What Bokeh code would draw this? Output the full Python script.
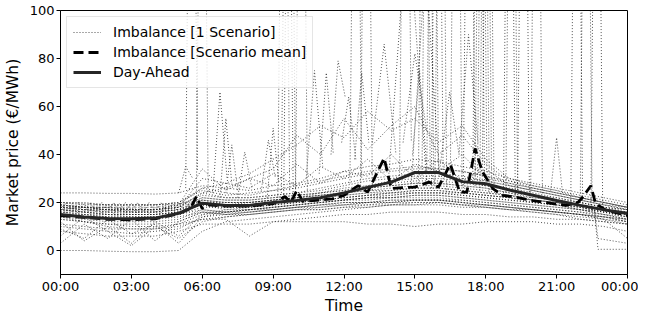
from bokeh.plotting import figure
from bokeh.models import FixedTicker, Range1d, Legend, LegendItem
from bokeh.embed import file_html
from bokeh.resources import INLINE

# ---------------- data ----------------
HOURS = list(range(25))
TICK_HOURS = [0, 3, 6, 9, 12, 15, 18, 21, 24]
TICK_LABELS = ["00:00", "03:00", "06:00", "09:00", "12:00", "15:00", "18:00", "21:00", "00:00"]
Y_TICKS = [0, 20, 40, 60, 80, 100]

DAY_AHEAD = [15, 14, 13.3, 13.2, 13.5, 15.5, 19.7, 18.8, 18.8, 20, 20.8, 22, 24, 26.3,
             28.5, 32.5, 32.5, 28.7, 27.8, 25.2, 23, 20.8, 18.8, 17, 15.4]

MEAN_T = [0, 1, 2, 3, 4, 5, 5.5, 5.75, 6.0, 6.25, 7, 8, 9, 9.5, 9.75, 10, 10.25, 11, 11.5, 12,
          12.6, 13, 13.7, 14, 14.5, 15, 15.6, 16, 16.5, 16.9, 17.2, 17.55, 17.85, 18.3, 18.7,
          19.3, 20, 20.7, 21.4, 21.9, 22.1, 22.45, 22.65, 23.1, 24]
MEAN_V = [14.5, 13.8, 13, 12.8, 13.2, 15.3, 17.5, 22.5, 17.5, 19, 18.5, 18.5, 19.5, 22.5, 20,
          25, 20.5, 21, 21.5, 23, 27, 24.3, 38.5, 25.8, 26.2, 26.4, 28.5, 26.4, 36, 24.3, 24.3,
          42.5, 33, 25.8, 23, 22.2, 20.8, 19.7, 18.8, 20, 22.2, 27, 19.5, 16.7, 14.6]

# hourly scenario profiles (00:00 ... 24:00)
S01 = [24, 24, 23.8, 23.8, 23.5, 24, 27, 26, 25, 27, 28, 30, 33, 35, 36, 38, 37, 35, 33, 30, 28, 26, 24, 22, 20]
S02 = [0, 0, -0.3, -0.5, -0.5, 0, 8, 12, 13, 14, 15, 16, 17, 18, 19, 19, 20, 19, 18, 17, 16, 15, 13, 12, 11]
S03 = [20, 19.5, 19, 19, 19, 19.5, 21, 20, 20, 21, 22, 23, 24, 26, 27, 28, 28, 27, 26, 24, 22, 21, 20, 18, 17]
S04 = [18, 17, 16, 16, 16, 17, 20, 19, 19, 20, 21, 22, 23, 24, 25, 26, 26, 25, 24, 23, 21, 20, 19, 17, 16]
S05 = [16, 15, 14, 14, 14, 15, 18, 18, 18, 19, 20, 21, 22, 23, 23, 24, 24, 23, 22, 21, 20, 19, 18, 16, 15]
S06 = [12, 4, 10, 3, 12, 6, 15, 16, 17, 18, 19, 20, 21, 21, 22, 22, 22, 21, 20, 19, 18, 17, 16, 14, 12]
S07 = [3, 11, 5, 13, 4, 12, 16, 15, 16, 17, 18, 19, 20, 20, 21, 21, 21, 20, 19, 18, 17, 16, 15, 13, 11]
S08 = [10, 9, 8, 7, 8, 9, 14, 15, 16, 17, 18, 19, 19, 20, 20, 21, 21, 20, 19, 18, 17, 16, 15, 14, 13]
S09 = [14, 13, 12, 12, 12, 13, 17, 16, 16, 17, 18, 18, 19, 19, 20, 20, 20, 19, 19, 18, 17, 16, 15, 14, 13]
S10 = [19, 18, 17, 17, 17, 18, 24, 22, 22, 23, 24, 25, 27, 29, 30, 31, 31, 30, 29, 27, 25, 23, 21, 19, 18]
S11 = [17, 16, 15, 15, 15, 16, 19, 17, 17, 18, 19, 20, 21, 22, 22, 23, 23, 22, 21, 20, 19, 18, 17, 15, 14]
S12 = [13, 12, 11, 10, 10, 11, 13, 13, 6, 12, 13, 14, 15, 15, 16, 16, 16, 15, 15, 14, 14, 13, 13, 12, 11]
S13 = [8, 7, 6, 6, 6, 8, 11, 11, 11, 12, 12, 12, 12, 11, 11, 10, 11, 11, 12, 12, 12, 11, 11, 10, 8]
S14 = [15, 14, 14, 13, 13, 14, 16, 16, 17, 18, 19, 20, 21, 22, 23, 24, 24, 24, 23, 22, 20, 19, 17, 16, 14]
S15 = [17, 16, 15, 15, 15, 16, 19, 18, 18, 19, 20, 21, 22, 23, 24, 24, 24, 23, 22, 21, 20, 19, 18, 16, 15]
S16 = [6, 14, 8, 2, 10, 5, 12, 14, 15, 16, 17, 18, 19, 20, 20, 21, 21, 20, 19, 18, 17, 16, 15, 14, 12]
S17 = [20, 20, 19, 19, 19, 20, 26, 24, 23, 25, 26, 28, 30, 32, 33, 34, 34, 33, 31, 29, 27, 25, 23, 21, 19]
S18 = [18, 17, 17, 16, 16, 17, 22, 21, 21, 22, 23, 24, 25, 27, 28, 29, 29, 28, 27, 25, 23, 22, 20, 18, 17]
S19 = [16, 15, 15, 14, 14, 15, 20, 20, 20, 21, 22, 23, 24, 25, 26, 27, 27, 26, 25, 23, 22, 21, 19, 17, 16]
S20 = [14, 12, 10, 9, 9, 11, 15, 17, 18, 19, 20, 21, 22, 23, 24, 25, 25, 24, 23, 22, 21, 20, 18, 16, 14]
S21 = [19, 18, 18, 18, 18, 19, 23, 22, 22, 23, 24, 26, 28, 30, 31, 32, 32, 31, 29, 27, 25, 23, 21, 19, 17]
S22 = [17, 17, 16, 16, 16, 17, 21, 20, 20, 21, 22, 23, 24, 25, 25, 26, 26, 25, 24, 23, 21, 20, 19, 17, 15]
S23 = [9, 5, 13, 7, 11, 3, 14, 16, 17, 18, 19, 20, 21, 22, 22, 23, 23, 22, 21, 20, 19, 18, 17, 15, 13]
S24 = [15, 15, 14, 14, 14, 15, 17, 16, 17, 17, 18, 19, 20, 20, 21, 21, 21, 21, 20, 19, 18, 17, 16, 15, 13]
S25 = [20, 19, 19, 19, 19, 20, 25, 23, 24, 25, 27, 29, 31, 33, 34, 35, 34, 33, 31, 28, 26, 24, 22, 20, 18]
S26 = [11, 10, 9, 9, 9, 10, 13, 14, 15, 16, 17, 17, 18, 18, 19, 19, 19, 18, 18, 17, 16, 15, 14, 13, 12]
S27 = [18, 18, 17, 17, 17, 18, 22, 21, 21, 22, 23, 24, 26, 27, 29, 30, 30, 29, 27, 26, 24, 22, 20, 18, 16]
S28 = [16, 16, 15, 15, 15, 16, 21, 19, 19, 20, 21, 22, 23, 24, 24, 25, 25, 24, 23, 22, 21, 20, 19, 17, 15]
S29 = [13, 12, 11, 11, 11, 12, 16, 15, 15, 16, 17, 17, 18, 19, 19, 20, 20, 19, 18, 17, 17, 16, 15, 13, 5]
S30 = [17, 16, 16, 15, 15, 16, 20, 19, 20, 21, 22, 24, 25, 26, 27, 28, 28, 27, 26, 24, 23, 21, 19, 17, 16]
S31 = [18, 17, 17, 16, 16, 18, 30, 28, 26, 32, 27, 35, 30, 38, 29, 36, 33, 40, 30, 28, 26, 24, 22, 20, 18]
S32 = [19, 18, 18, 17, 17, 19, 34, 25, 30, 27, 36, 28, 33, 31, 40, 30, 38, 29, 34, 27, 25, 23, 21, 19, 17]
S33 = [19, 18, 18, 17, 17, 19, 26, 28, 32, 38, 44, 52, 47, 58, 50, 55, 45, 52, 38, 30, 27, 25, 22, 20, 18]
S34 = [18, 18, 17, 17, 17, 18, 24, 26, 30, 34, 48, 40, 55, 42, 52, 60, 40, 48, 36, 29, 26, 24, 22, 20, 18]

SCENARIOS = [S01, S02, S03, S04, S05, S06, S07, S08, S09, S10, S11, S12, S13, S14, S15, S16, S17,
             S18, S19, S20, S21, S22, S23, S24, S25, S26, S27, S28, S29, S30, S31, S32, S33, S34]

# quarter-hourly night oscillations
NIGHT_T = [0, 0.25, 0.5, 0.75, 1, 1.25, 1.5, 1.75, 2, 2.25, 2.5, 2.75, 3, 3.25, 3.5, 3.75,
           4, 4.25, 4.5, 4.75, 5, 5.25, 5.5]
NIGHT_A = [16, 20, 16, 20, 16, 20, 16, 20, 16, 20, 16, 20, 16, 20, 16, 20, 16, 20, 16, 20, 16, 20, 18]
NIGHT_B = [19.5, 16.5, 19.5, 16.5, 19.5, 16.5, 19.5, 16.5, 19.5, 16.5, 19.5, 16.5, 19.5, 16.5,
           19.5, 16.5, 19.5, 16.5, 19.5, 16.5, 19.5, 17, 20]
NIGHT_C = [18, 15.5, 18, 15.5, 18, 15.5, 18, 15.5, 18, 15.5, 18, 15.5, 18, 15.5, 18, 15.5,
           18, 15.5, 18, 15.5, 18, 16, 19]

# late-evening drops
LATE_T = [21, 22, 22.6, 22.75, 24]
LATE_A = [20, 18, 17, 0.5, 0.5]
LATE_B = [19, 17, 16.5, 5, 3]

# price spikes: centre time, left base, peak, right base, half width (h)
SPIKE_T = [5.3, 5.55, 6.0, 9.45, 9.6, 9.7, 10.2, 12.5, 12.95, 14.6, 14.7, 15.4, 15.45, 15.55,
           15.75, 15.95, 16.1, 16.75, 17.3, 17.7, 17.8, 17.9, 18.0, 18.1, 19.0, 19.1, 19.6, 20.15,
           21.85, 22.25, 22.7,
           6.75, 7.0, 7.25, 7.8, 8.8, 9.0, 10.75, 11.25, 11.75, 12.2, 12.75, 13.7, 15.0, 15.2,
           16.47, 17.27, 21.0]
SPIKE_L = [24, 26, 20, 22, 24, 21, 23, 28, 27, 30, 32, 28, 28, 30, 27, 26, 28, 30, 26, 29, 27,
           28, 25, 27, 24, 23, 24, 22, 21, 20, 19,
           24, 22, 24, 22, 25, 22, 30, 32, 40, 45, 38, 45, 45, 40, 35, 40, 25]
SPIKE_P = [35, 300, 300, 300, 300, 300, 300, 300, 300, 300, 140, 300, 120, 300, 300, 300, 300,
           300, 300, 300, 300, 300, 300, 300, 300, 300, 300, 300, 300, 300, 300,
           66, 55, 44, 41, 46, 51, 75, 74, 79, 64, 74, 86, 82, 75, 66, 90, 47]
SPIKE_R = [30, 33, 24, 25, 22, 26, 25, 30, 25, 45, 28, 32, 30, 27, 33, 29, 25, 27, 30, 26, 31,
           24, 27, 26, 23, 24, 22, 23, 20, 22, 18,
           30, 28, 25, 26, 30, 28, 35, 40, 64, 38, 45, 40, 50, 35, 40, 45, 24]
SPIKE_HW = [0.3, 0.25, 0.25, 0.25, 0.25, 0.25, 0.25, 0.25, 0.25, 0.25, 0.8, 0.25, 0.6, 0.25,
            0.25, 0.25, 0.25, 0.25, 0.25, 0.25, 0.25, 0.25, 0.25, 0.25, 0.25, 0.25, 0.25, 0.25,
            0.25, 0.25, 0.25,
            0.3, 0.25, 0.25, 0.3, 0.3, 0.25, 0.35, 0.3, 0.3, 0.3, 0.3, 0.5, 0.5, 0.3, 0.4, 0.4, 0.25]

# ---------------- build ----------------
FONT = "DejaVu Sans"
xs = [HOURS for _ in SCENARIOS] + [NIGHT_T, NIGHT_T, NIGHT_T, LATE_T, LATE_T]
ys = [s for s in SCENARIOS] + [NIGHT_A, NIGHT_B, NIGHT_C, LATE_A, LATE_B]
for t, l, pk, r, hw in zip(SPIKE_T, SPIKE_L, SPIKE_P, SPIKE_R, SPIKE_HW):
    xs.append([t - hw, t, t + hw])
    ys.append([l, pk, r])

p = figure(frame_width=567, frame_height=264, x_range=Range1d(0, 24), y_range=Range1d(-10, 100),
           output_backend="svg", toolbar_location=None,
           min_border_left=59, min_border_right=11, min_border_top=10, min_border_bottom=30)

r_sc = p.multi_line(xs, ys, line_color="#1a1a1a", line_alpha=0.75, line_width=1,
                    line_dash="1 2")
r_mean = p.line(MEAN_T, MEAN_V, line_color="black", line_width=2.8, line_dash="10 5")
r_da = p.line(HOURS, DAY_AHEAD, line_color="#262626", line_width=3)

p.xaxis.ticker = FixedTicker(ticks=TICK_HOURS)
p.xaxis.major_label_overrides = {h: lab for h, lab in zip(TICK_HOURS, TICK_LABELS)}
p.yaxis.ticker = FixedTicker(ticks=Y_TICKS)
p.xaxis.axis_label = "Time"
p.yaxis.axis_label = "Market price (€/MWh)"
for ax in (p.xaxis[0], p.yaxis[0]):
    ax.axis_label_text_font = FONT
    ax.axis_label_text_font_size = "15.5px"
    ax.axis_label_text_font_style = "normal"
    ax.axis_label_text_color = "black"
    ax.major_label_text_font = FONT
    ax.major_label_text_font_size = "13px"
    ax.major_label_text_color = "black"
    ax.axis_line_color = "black"
    ax.major_tick_line_color = "black"
    ax.major_tick_out = 4
    ax.major_tick_in = 0
    ax.minor_tick_line_color = None
p.yaxis.major_label_standoff = 2
p.yaxis.axis_label_standoff = 5
p.xaxis.major_label_standoff = 0
p.xaxis.axis_label_standoff = 0
p.xgrid.visible = False
p.ygrid.visible = False
p.outline_line_color = "black"
p.outline_line_width = 1

legend = Legend(items=[
    LegendItem(label="Imbalance [1 Scenario]", renderers=[r_sc]),
    LegendItem(label="Imbalance [Scenario mean]", renderers=[r_mean]),
    LegendItem(label="Day-Ahead", renderers=[r_da]),
], location="top_left")
legend.label_text_font = FONT
legend.label_text_font_size = "14px"
legend.label_text_color = "black"
legend.glyph_width = 28
legend.glyph_height = 18
legend.label_height = 18
legend.spacing = 2
legend.padding = 6
legend.margin = 6
legend.label_standoff = 12
legend.border_line_color = "#cccccc"
legend.background_fill_alpha = 0.8
p.add_layout(legend)

open("out.html", "w").write(file_html(p, INLINE))
